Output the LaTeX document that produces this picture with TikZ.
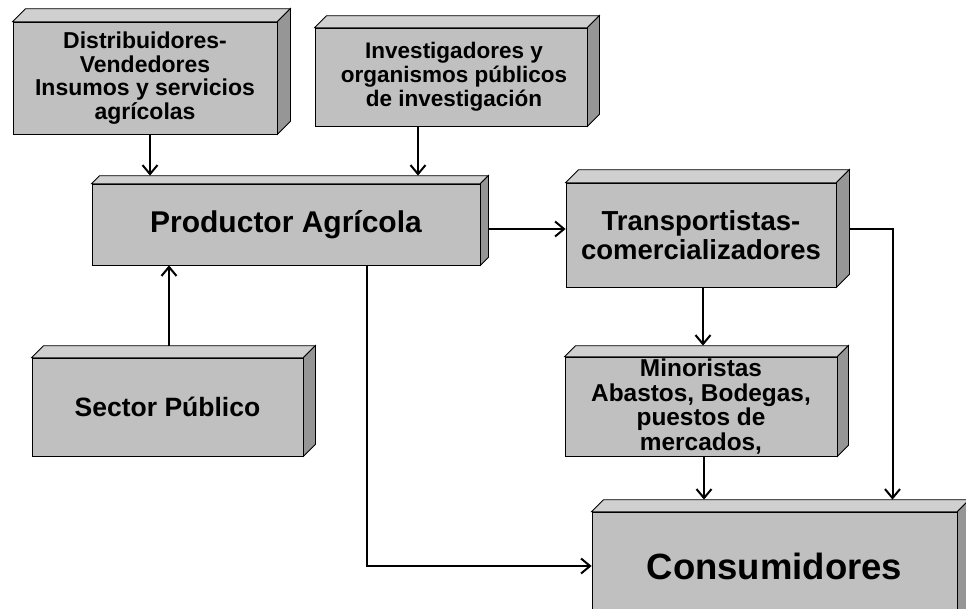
\documentclass[tikz,border=0pt]{standalone}
\usepackage{fontspec}
\setmainfont{Liberation Sans}
\usetikzlibrary{arrows.meta, calc}
\definecolor{frente}{RGB}{192, 192, 192}
\definecolor{arriba}{RGB}{208, 208, 208}
\definecolor{lado}{RGB}{150, 150, 150}

\begin{document}
\begin{tikzpicture}[
    x=1pt, y=-1pt,
    caja/.style={
        rectangle,
        draw=black,
        line width=0.75pt,
        fill=frente,
        inner sep=0pt,
        align=center
    },
    letra/.style 2 args={
        font=\bfseries\fontsize{#1}{#2}\selectfont
    },
    cara/.style={
        draw=black,
        line width=0.75pt,
        fill=#1
    },
    flecha/.style={
        -{Straight Barb[length=9pt,width=15pt]},
        line width=2pt
    }
]

\useasboundingbox (0,0) rectangle (966,608);
\clip (0,0) rectangle (966,608);

% Upper boxes
\node[caja, letra={23}{23.6}, minimum width=264pt, minimum height=112pt] (dist) at (145,78)
    {Distribuidores-\\Vendedores\\Insumos y servicios\\agrícolas};
\node[caja, letra={22.5}{23.8}, minimum width=272pt, minimum height=98pt] (inv) at (451,77)
    {\hspace*{6pt}Investigadores y\\\hspace*{6pt}organismos públicos\\\hspace*{6pt}de investigación};

% Middle row
\node[caja, letra={30}{30}, minimum width=388pt, minimum height=81pt] (prod) at (286,224.5)
    {Productor Agrícola};
\node[caja, letra={27.5}{28.5}, minimum width=270pt, minimum height=104pt] (trans) at (701,235)
    {Transportistas-\\comercializadores};

% Lower boxes
\node[caja, letra={26.5}{27}, minimum width=271pt, minimum height=98pt] (sector) at (167.5,407)
    {Sector Público};
\node[caja, letra={24.4}{24.6}, minimum width=272pt, minimum height=99pt] (min) at (701,406.5)
    {Minoristas\\Abastos, Bodegas,\\puestos de\\mercados,};
\node[caja, letra={36.5}{37}, minimum width=365pt, minimum height=108pt] (cons) at (774.5,566)
    {Consumidores};

% Depth of every box: top and side faces
\foreach \n/\d in {dist/13, inv/12, prod/8, trans/13, sector/12, min/11, cons/12} {
    \draw[cara=arriba] (\n.north west) -- ++(\d pt,\d pt)
        -- ($(\n.north east)+(\d pt,\d pt)$) -- (\n.north east) -- cycle;
    \draw[cara=lado] (\n.north east) -- ++(\d pt,\d pt)
        -- ($(\n.south east)+(\d pt,\d pt)$) -- (\n.south east) -- cycle;
}

% Connecting arrows
\draw[flecha] ([xshift=5pt]dist.south) -- ([xshift=5pt,yshift=8pt]dist.south |- prod.north);
\draw[flecha] ([xshift=-33pt]inv.south) -- ([xshift=-33pt,yshift=8pt]inv.south |- prod.north);
\draw[flecha] ([xshift=1.5pt,yshift=12pt]sector.north) -- ([xshift=1.5pt]sector.north |- prod.south);

\draw[flecha] ([xshift=8pt,yshift=-4.5pt]prod.east) -- ([yshift=-4.5pt]prod.east -| trans.west);
\draw[flecha] ([xshift=81pt]prod.south) |- (cons.west);

\draw[flecha] ([xshift=2pt]trans.south) -- ([xshift=2pt,yshift=11pt]trans.south |- min.north);
\draw[flecha] ([xshift=13pt,yshift=6pt]trans.east) -| ([xshift=118pt,yshift=12pt]cons.north);
\draw[flecha] ([xshift=3pt]min.south) -- ([xshift=3pt,yshift=12pt]min.south |- cons.north);

\end{tikzpicture}
\end{document}
